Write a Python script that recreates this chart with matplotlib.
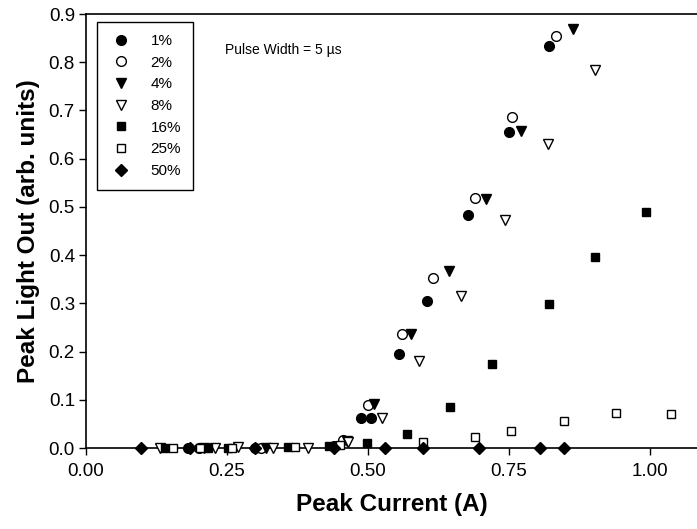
import numpy as np
import matplotlib
matplotlib.use("Agg")
import matplotlib.pyplot as plt

plt.rcParams['font.family'] = ['Liberation Sans', 'DejaVu Sans']

# duty cycle series: peak current (A) vs peak light out (arb. units)
x_1 = [0.18, 0.30, 0.44, 0.488, 0.505, 0.555, 0.604, 0.677, 0.750, 0.821]
y_1 = [0.0, 0.0, 0.004, 0.062, 0.062, 0.195, 0.305, 0.483, 0.655, 0.834]

x_2 = [0.20, 0.31, 0.455, 0.500, 0.560, 0.615, 0.689, 0.756, 0.834]
y_2 = [0.0, 0.0, 0.017, 0.090, 0.236, 0.352, 0.519, 0.686, 0.855]

x_4 = [0.21, 0.32, 0.462, 0.511, 0.576, 0.643, 0.709, 0.771, 0.864]
y_4 = [0.0, 0.0, 0.014, 0.092, 0.236, 0.368, 0.516, 0.658, 0.869]

x_8 = [0.131, 0.229, 0.27, 0.332, 0.394, 0.465, 0.525, 0.591, 0.664, 0.742, 0.819, 0.902]
y_8 = [0.0, 0.0, 0.002, 0.0, 0.0, 0.012, 0.062, 0.181, 0.316, 0.473, 0.630, 0.784]

x_16 = [0.140, 0.216, 0.252, 0.359, 0.430, 0.499, 0.570, 0.645, 0.720, 0.821, 0.902, 0.993]
y_16 = [0.0, 0.0, 0.0, 0.002, 0.004, 0.011, 0.029, 0.086, 0.174, 0.299, 0.397, 0.489]

x_25 = [0.155, 0.202, 0.258, 0.370, 0.45, 0.598, 0.689, 0.754, 0.848, 0.940, 1.037]
y_25 = [0.0, 0.0, 0.0, 0.002, 0.006, 0.012, 0.022, 0.036, 0.055, 0.072, 0.070]

x_50 = [0.097, 0.184, 0.30, 0.44, 0.530, 0.597, 0.696, 0.805, 0.848]
y_50 = [0.0, 0.0, 0.0, 0.0, 0.0, 0.0, 0.0, 0.0, 0.0]

fig = plt.figure(figsize=(6.97, 5.29), dpi=100)
ax = fig.add_axes([0.1234, 0.1531, 0.8766, 0.8204])

kw = dict(linestyle='none', color='black', clip_on=False, zorder=3)
ax.plot(x_1, y_1, marker='o', markersize=7, label='1%', **kw)
ax.plot(x_2, y_2, marker='o', markersize=7, markerfacecolor='white', label='2%', **kw)
ax.plot(x_4, y_4, marker='v', markersize=7.5, label='4%', **kw)
ax.plot(x_8, y_8, marker='v', markersize=7.5, markerfacecolor='white', label='8%', **kw)
ax.plot(x_16, y_16, marker='s', markersize=6, label='16%', **kw)
ax.plot(x_25, y_25, marker='s', markersize=6, markerfacecolor='white', label='25%', **kw)
ax.plot(x_50, y_50, marker='D', markersize=6.5, label='50%', **kw)

ax.set_xlim(0, 1.0833)
ax.set_ylim(0, 0.9)
ax.set_xticks([0.0, 0.25, 0.5, 0.75, 1.0])
ax.set_xticklabels(['0.00', '0.25', '0.50', '0.75', '1.00'])
ax.set_yticks(np.arange(0, 0.91, 0.1))
ax.set_yticklabels([f'{v:.1f}' for v in np.arange(0, 0.91, 0.1)])
ax.tick_params(direction='out', length=5, width=1, labelsize=13.5)
ax.tick_params(axis='x', pad=6)
ax.tick_params(axis='y', pad=3)
ax.spines['right'].set_visible(False)
for s in ['left', 'top', 'bottom']:
    ax.spines[s].set_linewidth(1.2)

ax.set_xlabel('Peak Current (A)', fontsize=17.5, fontweight='bold', labelpad=9)
ax.set_ylabel('Peak Light Out (arb. units)', fontsize=17.5, fontweight='bold', labelpad=6)

ax.text(0.2275, 0.917, 'Pulse Width = 5 \u00b5s', transform=ax.transAxes,
        fontsize=10, va='center', ha='left')

leg = ax.legend(loc='upper left', bbox_to_anchor=(0.018, 0.982), borderaxespad=0,
                fontsize=11, frameon=True, fancybox=False, edgecolor='black',
                framealpha=1, labelspacing=0.5, handletextpad=1.2, borderpad=0.8,
                handlelength=1.5, numpoints=1)
leg.get_frame().set_linewidth(1.0)

fig.savefig('out.png', dpi=100)
